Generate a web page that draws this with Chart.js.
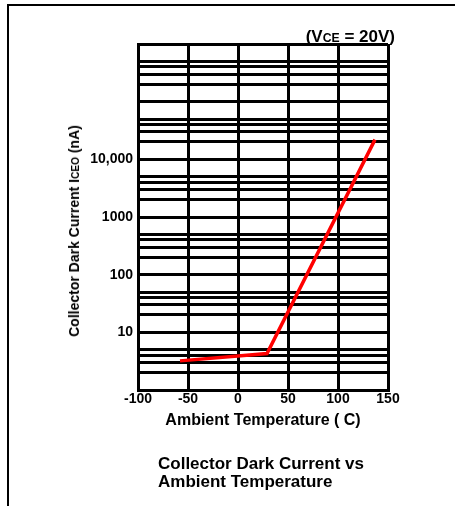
<!DOCTYPE html>
<html>
<head>
<meta charset="utf-8">
<script src="https://cdn.jsdelivr.net/npm/chart.js@4/dist/chart.umd.min.js"></script>
<style>
  body { margin: 0; background: #fff; }
  #wrap { position: relative; width: 455px; height: 506px; overflow: hidden; font-family: "Liberation Sans", Arial, sans-serif; color: #000; }
  #frame { position: absolute; left: 7px; top: 4px; width: 470px; height: 520px; border-left: 2px solid #000; border-top: 2px solid #000; }
  #chartBox { position: absolute; left: 0; top: 0; width: 455px; height: 506px; }
  .note { position: absolute; font-weight: bold; white-space: nowrap; }
  .small { font-size: 0.72em; }
</style>
</head>
<body>
<div id="wrap">
  <div id="frame"></div>
  <div id="chartBox"><canvas id="chart"></canvas></div>
  <div class="note" id="vce" style="right:60px; top:27px; font-size:17px;">(V<span class="small">CE</span> = 20V)</div>
  <div class="note" id="ytitle" style="left:74px; top:231px; font-size:14px; transform:translate(-50%,-50%) rotate(-90deg);">Collector Dark Current I<span class="small">CEO</span> (nA)</div>
  <div class="note" id="caption" style="left:158px; top:455px; font-size:17px; line-height:18px;">Collector Dark Current vs<br>Ambient Temperature</div>
</div>
<script>
// Daten
const temps = [-58, 29, 137];
const darkCurrent = [3.2, 4.3, 22000];

// Gitterlinien der log. Achse (1..5 je Dekade)
const yGridValues = [
  1, 2, 3, 4, 5,
  10, 20, 30, 40, 50,
  100, 200, 300, 400, 500,
  1000, 2000, 3000, 4000, 5000,
  10000, 20000, 30000, 40000, 50000,
  100000, 200000, 300000, 400000, 500000,
  1000000
];
const yLabelValues = [10, 100, 1000, 10000];
const yLabelTexts = ["10", "100", "1000", "10,000"];
const xTickValues = [-100, -50, 0, 50, 100, 150];

Chart.defaults.color = "#000";
Chart.defaults.font.family = '"Liberation Sans", Arial, sans-serif';

const ctx = document.getElementById("chart").getContext("2d");
new Chart(ctx, {
  type: "scatter",
  data: {
    datasets: [
      {
        data: temps.map((t, i) => ({ x: t, y: darkCurrent[i] })),
        showLine: true,
        borderColor: "#ff0000",
        borderWidth: 3.5,
        pointRadius: 0,
        tension: 0,
      },
    ],
  },
  options: {
    responsive: true,
    maintainAspectRatio: false,
    animation: false,
    layout: { padding: { left: 0, right: 67, top: 44, bottom: 75.4 } },
    plugins: { legend: { display: false }, tooltip: { enabled: false } },
    scales: {
      x: {
        type: "linear",
        min: -100,
        max: 150,
        afterBuildTicks: (scale) => {
          scale.ticks = xTickValues.map((v) => ({ value: v }));
        },
        afterFit: (scale) => {
          scale.height = 40.6;
        },
        ticks: { font: { size: 14, weight: "bold" }, padding: 1, maxRotation: 0 },
        grid: { color: "#000", lineWidth: 3, drawTicks: false },
        border: { color: "#000", width: 3 },
        title: {
          display: true,
          text: "Ambient Temperature ( C)",
          font: { size: 16, weight: "bold" },
          padding: 0,
        },
      },
      y: {
        type: "logarithmic",
        min: 1,
        max: 1000000,
        afterBuildTicks: (scale) => {
          scale.ticks = yGridValues.map((v) => ({ value: v }));
        },
        afterFit: (scale) => {
          scale.width = 138;
        },
        ticks: {
          autoSkip: false,
          font: { size: 14, weight: "bold" },
          padding: 5,
          callback: (value) => {
            const i = yLabelValues.indexOf(value);
            return i >= 0 ? yLabelTexts[i] : "";
          },
        },
        grid: { color: "#000", lineWidth: 3, drawTicks: false },
        border: { color: "#000", width: 3 },
      },
    },
  },
});
</script>
</body>
</html>
